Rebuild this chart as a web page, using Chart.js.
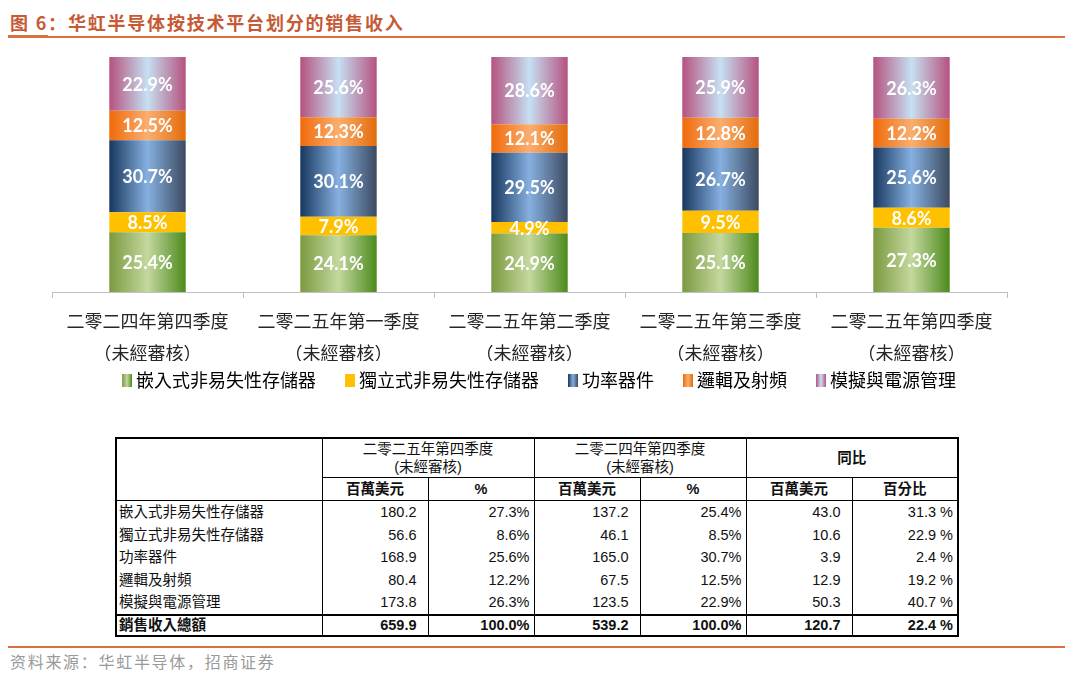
<!DOCTYPE html>
<html>
<head>
<meta charset="utf-8">
<script src="https://cdn.jsdelivr.net/npm/chart.js@4.4.1/dist/chart.umd.min.js"></script>
<style>
  html, body { margin: 0; padding: 0; background: #fff; }
  body { width: 1080px; height: 675px; position: relative; overflow: hidden; font-family: "Liberation Sans", "Noto Sans CJK TC", sans-serif; }
  .title { position: absolute; left: 10px; top: 9px; line-height: 26px; font-family: "Noto Sans CJK SC"; font-weight: bold; font-size: 18px; color: #C55A35; letter-spacing: 1.8px; white-space: nowrap; }
  .rule { position: absolute; left: 8px; width: 1057px; height: 2px; background: #D8703F; }
  .source { position: absolute; left: 10px; top: 650px; line-height: 22px; font-family: "Noto Sans CJK SC"; font-size: 16px; color: #9a9a9a; letter-spacing: 1.7px; }
  #chartBox { position: absolute; left: 0; top: 40px; width: 1080px; height: 359px; }
  table { position: absolute; left: 115px; top: 437px; width: 842px; border-collapse: collapse; table-layout: fixed; font-size: 14.5px; color: #111; border: 2px solid #000; }
  td, th { padding: 0; border-left: 1.5px solid #000; border-right: 1.5px solid #000; white-space: nowrap; }
  th { text-align: center; }
  tr.h1 th { height: 38px; line-height: 18px; font-weight: normal; border-bottom: 1.5px solid #000; }
  tr.h1 th.yoy { font-weight: bold; }
  tr.h2 th { height: 22px; line-height: 22px; font-weight: bold; border-bottom: 1.5px solid #000; }
  td { height: 22.6px; line-height: 22.6px; text-align: right; }
  td.lab { text-align: left; padding-left: 2px; }
  td.m { padding-right: 11px; }
  td.p { padding-right: 4px; }
  tr.total td { height: 19px; line-height: 19px; font-weight: bold; border-top: 2px solid #000; }
</style>
</head>
<body>
<div class="title">图 6：华虹半导体按技术平台划分的销售收入</div>
<div class="rule" style="top:36px"></div>
<div class="rule" style="top:35px;width:40px;height:3px"></div>
<div id="chartBox"><canvas id="myChart"></canvas></div>
<table id="revTable"></table>
<div class="rule" style="top:646px"></div>
<div class="source">资料来源：华虹半导体，招商证券</div>
<script>
// chart data (percent of sales by platform)
const quarters = [
  ['二零二四年第四季度', '（未經審核）'],
  ['二零二五年第一季度', '（未經審核）'],
  ['二零二五年第二季度', '（未經審核）'],
  ['二零二五年第三季度', '（未經審核）'],
  ['二零二五年第四季度', '（未經審核）']
]
const seriesNames = ['嵌入式非易失性存儲器', '獨立式非易失性存儲器', '功率器件', '邏輯及射頻', '模擬與電源管理']
const embedded = [25.4, 24.1, 24.9, 25.1, 27.3]
const standalone = [8.5, 7.9, 4.9, 9.5, 8.6]
const power = [30.7, 30.1, 29.5, 26.7, 25.6]
const logicRF = [12.5, 12.3, 12.1, 12.8, 12.2]
const analog = [22.9, 25.6, 28.6, 25.9, 26.3]

// table data
const tableRows = seriesNames
const rev25Q4 = ['180.2', '56.6', '168.9', '80.4', '173.8']
const pct25Q4 = ['27.3%', '8.6%', '25.6%', '12.2%', '26.3%']
const rev24Q4 = ['137.2', '46.1', '165.0', '67.5', '123.5']
const pct24Q4 = ['25.4%', '8.5%', '30.7%', '12.5%', '22.9%']
const yoyAbs = ['43.0', '10.6', '3.9', '12.9', '50.3']
const yoyPct = ['31.3 %', '22.9 %', '2.4 %', '19.2 %', '40.7 %']
const totalLabel = '銷售收入總額'
const totals = ['659.9', '100.0%', '539.2', '100.0%', '120.7', '22.4 %']

// horizontal gradient stops: left, middle, right
const stops = [
  ['#7A9A3F', '#C4D89E', '#4C8A1C'],
  ['#FFC000', '#FFC000', '#FFC000'],
  ['#17375E', '#86B0E0', '#3C4A60'],
  ['#F06A0A', '#FAAE70', '#E36C0A'],
  ['#B5527F', '#C6E0F2', '#B5527F']
]
const barPct = 0.4

function barFill(s) {
  return ctx => {
    const chart = ctx.chart
    const x = chart.scales.x
    if (!x || ctx.dataIndex === undefined || !x.width) return s[1]
    const cx = x.getPixelForValue(ctx.dataIndex)
    const half = x.width / quarters.length * barPct / 2
    const g = chart.ctx.createLinearGradient(cx - half, 0, cx + half, 0)
    g.addColorStop(0, s[0])
    g.addColorStop(0.5, s[1])
    g.addColorStop(1, s[2])
    return g
  }
}

function legendIcon(s) {
  const c = document.createElement('canvas')
  c.width = 34
  c.height = 13
  const g = c.getContext('2d')
  const gr = g.createLinearGradient(24, 0, 34, 0)
  gr.addColorStop(0, s[0])
  gr.addColorStop(0.5, s[1])
  gr.addColorStop(1, s[2])
  g.fillStyle = gr
  g.fillRect(24, 0, 10, 13)
  return c
}

const segmentLabels = {
  id: 'segmentLabels',
  afterDatasetsDraw(chart) {
    const ctx = chart.ctx
    ctx.save()
    ctx.font = 'bold 18px Lato'
    ctx.fillStyle = '#fff'
    ctx.textAlign = 'center'
    ctx.textBaseline = 'middle'
    chart.data.datasets.forEach((ds, i) => {
      chart.getDatasetMeta(i).data.forEach((bar, j) => {
        const p = bar.getCenterPoint()
        ctx.fillText(ds.data[j].toFixed(1) + '%', p.x, p.y + 1)
      })
    })
    ctx.restore()
  }
}

const allSeries = [embedded, standalone, power, logicRF, analog]
const data = {
  labels: quarters,
  datasets: allSeries.map((vals, i) => ({
    label: seriesNames[i],
    data: vals,
    backgroundColor: barFill(stops[i]),
    borderWidth: 0,
    barPercentage: barPct,
    categoryPercentage: 1
  }))
}

let myChart = document.getElementById('myChart').getContext('2d')
let salesChart = new Chart(myChart, {
  type: 'bar',
  data: data,
  plugins: [segmentLabels],
  options: {
    responsive: true,
    maintainAspectRatio: false,
    animation: false,
    events: [],
    layout: { padding: { top: 17, left: 52, right: 73, bottom: 0 } },
    plugins: {
      tooltip: { enabled: false },
      legend: {
        position: 'bottom',
        labels: {
          color: '#262626',
          font: { family: 'Noto Sans CJK TC', size: 18 },
          usePointStyle: true,
          pointStyleWidth: 24,
          padding: 10,
          generateLabels: chart => seriesNames.map((name, i) => ({
            text: name,
            pointStyle: legendIcon(stops[i]),
            fillStyle: stops[i][1],
            strokeStyle: 'rgba(0,0,0,0)',
            lineWidth: 0,
            hidden: false,
            datasetIndex: i
          }))
        }
      }
    },
    scales: {
      x: {
        stacked: true,
        grid: { display: true, drawOnChartArea: false, drawTicks: true, tickLength: 6, color: '#bfbfbf', offset: true },
        border: { display: true, color: '#bfbfbf' },
        ticks: {
          color: '#262626',
          padding: 7,
          maxRotation: 0,
          font: { family: 'Noto Sans CJK TC', size: 18, lineHeight: '32px' }
        },
        afterFit: scale => { scale.height = 69 }
      },
      y: {
        stacked: true,
        display: false,
        min: 0,
        max: 100
      }
    }
  }
})

// table
const tbl = document.getElementById('revTable')
let html = '<colgroup><col style="width:206px">' + '<col style="width:106px">'.repeat(6) + '</colgroup>'
html += '<tr class="h1"><th rowspan="2"></th>'
html += '<th colspan="2">二零二五年第四季度<br>(未經審核)</th>'
html += '<th colspan="2">二零二四年第四季度<br>(未經審核)</th>'
html += '<th colspan="2" class="yoy">同比</th></tr>'
html += '<tr class="h2"><th>百萬美元</th><th>%</th><th>百萬美元</th><th>%</th><th>百萬美元</th><th>百分比</th></tr>'
tableRows.forEach((name, i) => {
  html += `<tr><td class="lab">${name}</td><td class="m">${rev25Q4[i]}</td><td class="p">${pct25Q4[i]}</td>` +
    `<td class="m">${rev24Q4[i]}</td><td class="p">${pct24Q4[i]}</td><td class="m">${yoyAbs[i]}</td><td class="p">${yoyPct[i]}</td></tr>`
})
html += `<tr class="total"><td class="lab">${totalLabel}</td>` +
  totals.map((v, i) => `<td class="${i % 2 ? 'p' : 'm'}">${v}</td>`).join('') + '</tr>'
tbl.innerHTML = html
</script>
</body>
</html>
